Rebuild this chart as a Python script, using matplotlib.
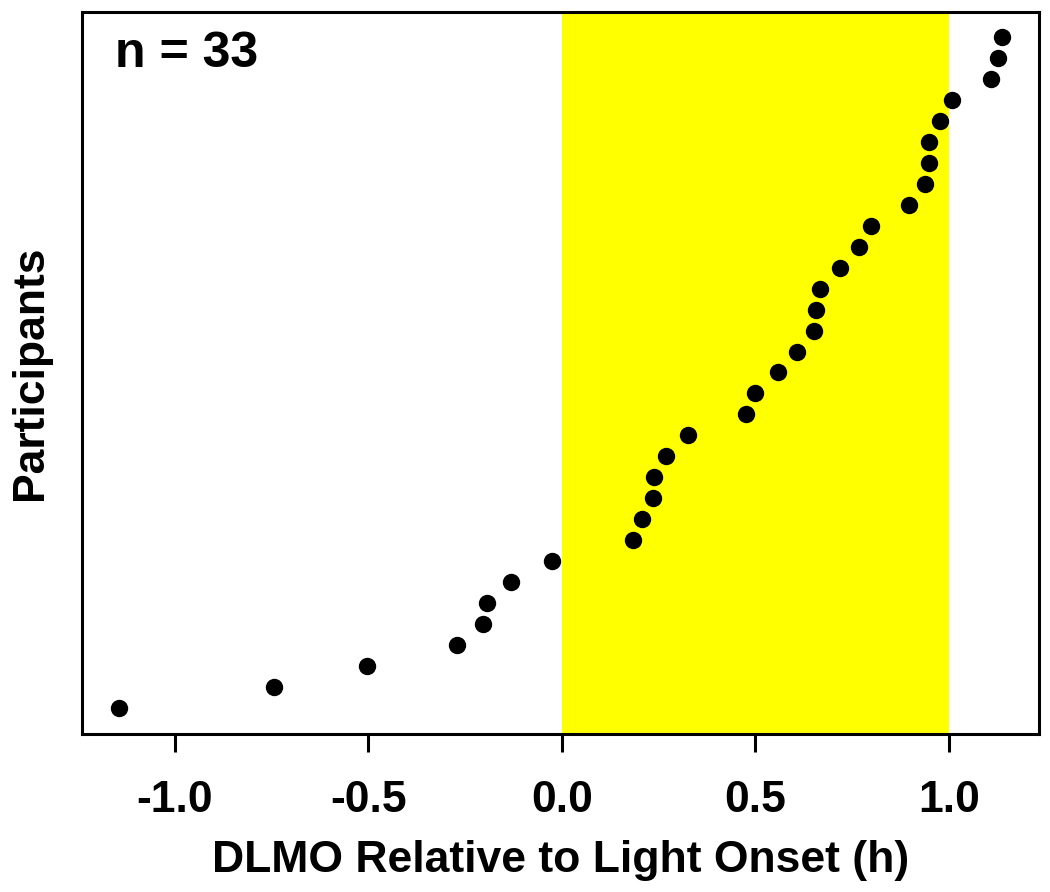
import matplotlib
matplotlib.use("Agg")
import matplotlib.pyplot as plt

# DLMO relative to light onset (h), sorted, one per participant
dlmo = [-1.145, -0.744, -0.504, -0.271, -0.204, -0.194, -0.132, -0.026,
        0.183, 0.207, 0.235, 0.238, 0.269, 0.326, 0.475, 0.499, 0.558,
        0.607, 0.651, 0.656, 0.667, 0.718, 0.767, 0.798, 0.897, 0.938,
        0.948, 0.948, 0.977, 1.008, 1.109, 1.127, 1.137]
participant = list(range(1, len(dlmo) + 1))
light_window = (0.0, 1.0)
xticks = [-1.0, -0.5, 0.0, 0.5, 1.0]

plt.rcParams['font.family'] = ['Liberation Sans', 'DejaVu Sans']
plt.rcParams['font.weight'] = 'bold'

fig = plt.figure(figsize=(10.5, 8.92), dpi=100)
ax = fig.add_axes([82/1050, 1-734/892, (1039-82)/1050, (734-12)/892])

ax.axvspan(light_window[0], light_window[1], color='#ffff00', lw=0, zorder=0)
ax.plot(dlmo, participant, 'o', color='black', markersize=11.5, zorder=3)

ax.set_xlim(-1.240, 1.233)
ax.set_ylim(-0.25, 34.2)
ax.set_xticks(xticks)
ax.set_xticklabels(['%.1f' % t for t in xticks])
ax.set_yticks([])
ax.tick_params(axis='x', length=13, width=2.2, labelsize=32, pad=20)
for s in ax.spines.values():
    s.set_linewidth(2.2)

ax.set_xlabel('DLMO Relative to Light Onset (h)', fontsize=32, fontweight='bold', labelpad=14)
ax.set_ylabel('Participants', fontsize=32, fontweight='bold', labelpad=22)
ax.text(0.034, 0.973, 'n = 33', transform=ax.transAxes, fontsize=36,
        fontweight='bold', va='top', ha='left')

fig.savefig('out.png', dpi=100)
